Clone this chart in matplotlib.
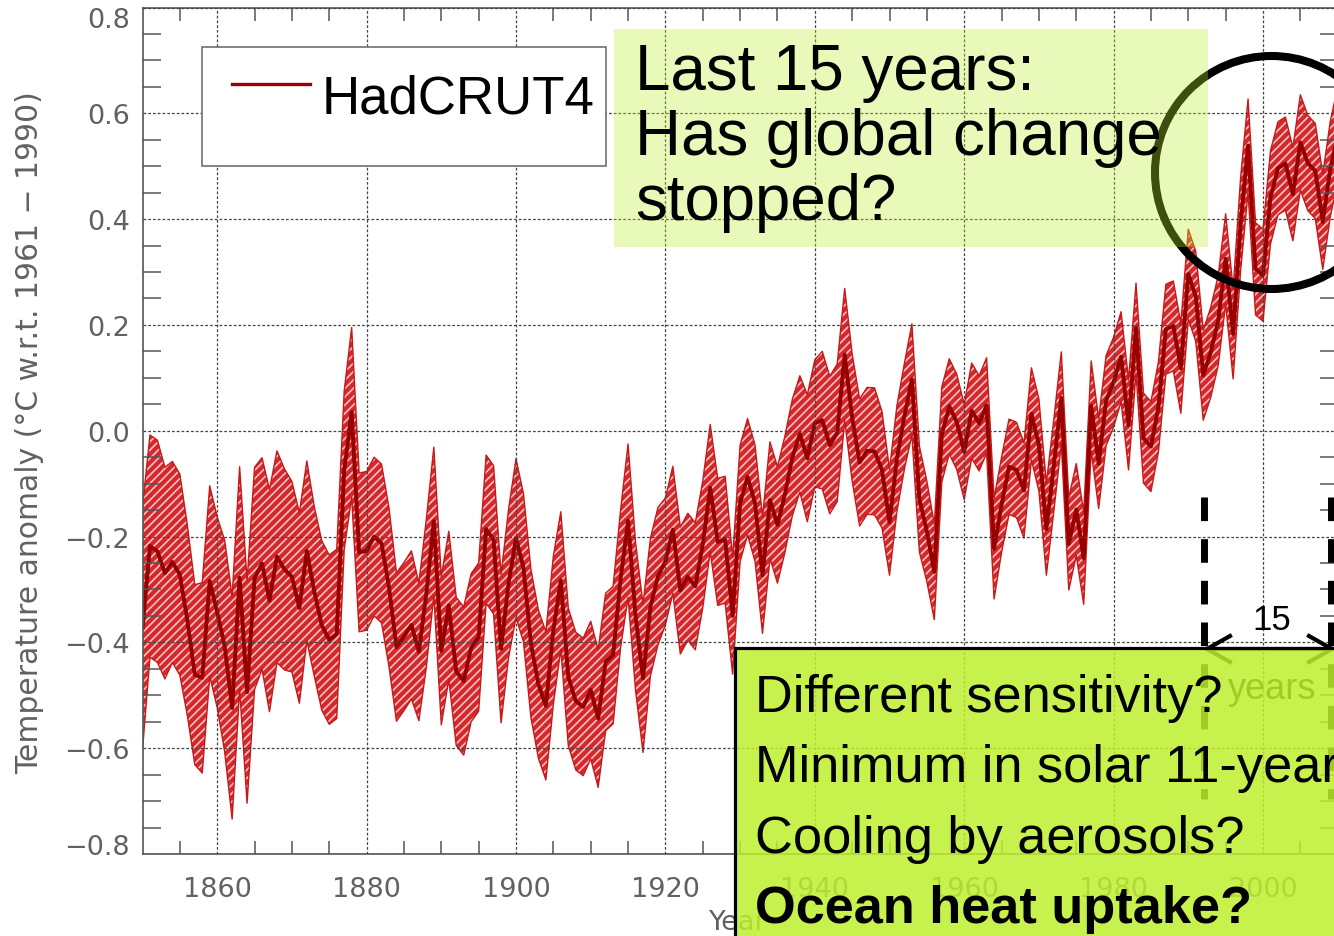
import matplotlib
matplotlib.use("Agg")
import matplotlib.pyplot as plt
import matplotlib.patches as mpatches
from matplotlib.lines import Line2D
from matplotlib.ticker import FuncFormatter

# ---------------- data ----------------
years = list(range(1850, 2013))
anomaly = [
    -0.373, -0.218, -0.228, -0.269, -0.248, -0.272, -0.358, -0.461, -0.467, -0.284,
    -0.343, -0.407, -0.524, -0.278, -0.494, -0.279, -0.251, -0.321, -0.238, -0.262,
    -0.276, -0.335, -0.227, -0.304, -0.368, -0.395, -0.384, -0.075, 0.035, -0.230,
    -0.227, -0.200, -0.213, -0.296, -0.409, -0.389, -0.367, -0.418, -0.307, -0.171,
    -0.416, -0.330, -0.455, -0.473, -0.410, -0.390, -0.186, -0.206, -0.412, -0.289,
    -0.203, -0.259, -0.402, -0.479, -0.520, -0.377, -0.283, -0.465, -0.511, -0.522,
    -0.490, -0.544, -0.437, -0.424, -0.280, -0.170, -0.350, -0.468, -0.333, -0.275,
    -0.247, -0.187, -0.302, -0.276, -0.294, -0.215, -0.108, -0.210, -0.206, -0.350,
    -0.137, -0.087, -0.137, -0.273, -0.131, -0.178, -0.120, -0.050, -0.006, -0.052,
    0.014, 0.020, -0.027, -0.004, 0.144, 0.025, -0.060, -0.038, -0.039, -0.074,
    -0.173, -0.052, 0.028, 0.097, -0.129, -0.190, -0.267, -0.007, 0.046, 0.017,
    -0.040, 0.038, 0.014, 0.048, -0.223, -0.140, -0.068, -0.074, -0.113, 0.032,
    -0.027, -0.186, -0.065, 0.062, -0.214, -0.149, -0.241, 0.047, -0.062, 0.057,
    0.092, 0.140, 0.011, 0.194, -0.014, -0.030, 0.045, 0.192, 0.198, 0.118,
    0.296, 0.254, 0.105, 0.148, 0.208, 0.325, 0.183, 0.390, 0.539, 0.306,
    0.294, 0.441, 0.496, 0.505, 0.447, 0.545, 0.506, 0.491, 0.395, 0.494,
    0.560, 0.425, 0.470,
]
half_width = [
    0.23, 0.21, 0.21, 0.20, 0.19, 0.19, 0.18, 0.17, 0.18, 0.18,
    0.18, 0.20, 0.21, 0.21, 0.21, 0.21, 0.20, 0.21, 0.20, 0.19,
    0.18, 0.18, 0.17, 0.16, 0.16, 0.16, 0.16, 0.15, 0.16, 0.15,
    0.15, 0.15, 0.15, 0.15, 0.14, 0.14, 0.14, 0.13, 0.14, 0.14,
    0.14, 0.14, 0.14, 0.14, 0.14, 0.14, 0.14, 0.14, 0.14, 0.14,
    0.15, 0.14, 0.14, 0.14, 0.14, 0.14, 0.13, 0.13, 0.13, 0.13,
    0.13, 0.13, 0.13, 0.13, 0.13, 0.145, 0.14, 0.14, 0.13, 0.13,
    0.12, 0.12, 0.12, 0.12, 0.12, 0.12, 0.12, 0.12, 0.12, 0.11,
    0.11, 0.11, 0.11, 0.11, 0.11, 0.11, 0.11, 0.11, 0.11, 0.12,
    0.12, 0.13, 0.13, 0.13, 0.125, 0.12, 0.12, 0.12, 0.12, 0.11,
    0.10, 0.10, 0.10, 0.105, 0.10, 0.095, 0.09, 0.09, 0.09, 0.09,
    0.09, 0.09, 0.09, 0.09, 0.095, 0.09, 0.09, 0.09, 0.09, 0.087,
    0.087, 0.087, 0.087, 0.087, 0.087, 0.087, 0.087, 0.085, 0.085, 0.085,
    0.085, 0.085, 0.085, 0.085, 0.085, 0.085, 0.085, 0.085, 0.085, 0.085,
    0.085, 0.085, 0.085, 0.085, 0.085, 0.085, 0.085, 0.088, 0.088, 0.087,
    0.087, 0.088, 0.088, 0.088, 0.088, 0.09, 0.09, 0.09, 0.09, 0.09,
    0.09, 0.09, 0.09,
]
x_major = [1860, 1880, 1900, 1920, 1940, 1960, 1980, 2000]
y_major = [-0.8, -0.6, -0.4, -0.2, 0.0, 0.2, 0.4, 0.6, 0.8]
series_label = "HadCRUT4"
y_label = "Temperature anomaly (\u00b0C w.r.t. 1961 \u2212 1990)"
x_label = "Year"
top_note = ["Last 15 years:", "Has global change", "stopped?"]
bottom_note = ["Different sensitivity?", "Minimum in solar 11-year cycle?",
               "Cooling by aerosols?", "Ocean heat uptake?"]
span_label = "15"
span_unit = "years"

upper = [a + h for a, h in zip(anomaly, half_width)]
lower = [a - h for a, h in zip(anomaly, half_width)]

# ---------------- figure ----------------
W, H = 1334, 937
plt.rcParams["font.family"] = ["DejaVu Sans"]
plt.rcParams["hatch.linewidth"] = 1.2
fig = plt.figure(figsize=(W / 100, H / 100), dpi=100)


def fx(x):
    return x / W


def fy(y):
    return 1 - y / H


ax_left, ax_right, ax_top, ax_bot = 142.5, 142.5 + 160 * 7.47, 8.5, 855
ax = fig.add_axes([fx(ax_left), fy(ax_bot), (ax_right - ax_left) / W, (ax_bot - ax_top) / H])

band_face = "#D4282D"
ax.fill_between(years, lower, upper, facecolor=band_face, edgecolor="none", zorder=1)
ax.fill_between(years, lower, upper, facecolor="none", edgecolor="#F6C2C2",
                hatch="////", linewidth=0, zorder=1.1)
ax.plot(years, upper, color="#C81818", lw=1.0, zorder=1.5)
ax.plot(years, lower, color="#C81818", lw=1.0, zorder=1.5)
ax.plot(years, anomaly, color="#980000", lw=2.8, zorder=2)

ax.set_xlim(1850, 2010)
ax.set_ylim(-0.8, 0.8)
ax.set_xticks(x_major)
ax.set_yticks(y_major)
ax.set_xticks(list(range(1855, 2010, 5)), minor=True)
ax.set_yticks([v / 100 for v in range(-75, 80, 5)], minor=True)
ax.yaxis.set_major_formatter(FuncFormatter(lambda v, p: f"{v:.1f}".replace("-", "\u2212")))

gray = "#555555"
ax.tick_params(which="major", length=0, labelsize=19.5, labelcolor="#616161")
ax.tick_params(axis="x", which="major", pad=16)
ax.tick_params(axis="y", which="major", pad=9)
ax.tick_params(axis="x", which="minor", length=9.5, width=1.1, color=gray,
               direction="in", top=True, bottom=True)
ax.tick_params(axis="y", which="minor", length=13, width=1.1, color=gray,
               direction="in", left=True, right=True)
for s in ax.spines.values():
    s.set_color(gray)
    s.set_linewidth(1.2)
ax.set_axisbelow(False)
ax.grid(which="major", color="#444444", linestyle=(0, (2.2, 1.6)), linewidth=0.9)
ylabels = ax.get_yticklabels()
ylabels[0].set_va("baseline")
ylabels[-1].set_va("top")

fig.text(fx(30), fy(433), y_label, rotation=90, ha="center", va="center",
         fontsize=21.5, color="#616161")
fig.text(fx(738), fy(923), x_label, ha="center", va="center", fontsize=19.5, color="#616161")

sans = ["Liberation Sans", "DejaVu Sans"]

# legend box
fig.patches.append(mpatches.Rectangle((fx(202), fy(167)), (606 - 202) / W, (167 - 48) / H,
                                      transform=fig.transFigure, facecolor="white",
                                      edgecolor="#707070", lw=1.2, zorder=3))
fig.lines.append(Line2D([fx(232), fx(310)], [fy(85), fy(85)], transform=fig.transFigure,
                        color="#9A0000", lw=2.4, zorder=4))
fig.text(fx(322), fy(113), series_label, family=sans, fontsize=38, color="black",
         va="baseline", ha="left", zorder=4)

# circle
fig.patches.append(mpatches.Ellipse((fx(1271.5), fy(173.5)), 233 / W, 233 / H,
                                    transform=fig.transFigure, facecolor="none",
                                    edgecolor="black", lw=5.8, zorder=5))

# upper note box
green = (0.745, 0.937, 0.176)
fig.patches.append(mpatches.Rectangle((fx(614), fy(248)), (1208 - 614) / W, (248 - 30) / H,
                                      transform=fig.transFigure,
                                      facecolor=green + (0.33,), edgecolor="none", zorder=6))
for i, line in enumerate(top_note):
    fig.text(fx(635), fy(90 + 65 * i), line, family=sans, fontsize=45.8,
             color="black", va="baseline", ha="left", zorder=7)

# 15-year span markers
dash_style = (0, (3.4, 2.6))
for xp in (1204, 1331):
    fig.lines.append(Line2D([fx(xp), fx(xp)], [fy(498), fy(800)], transform=fig.transFigure,
                            color="black", lw=5, linestyle=dash_style, zorder=5))
fig.lines.append(Line2D([fx(1207), fx(1331)], [fy(650), fy(650)], transform=fig.transFigure,
                        color="black", lw=3, zorder=5))
fig.lines.append(Line2D([fx(1230), fx(1207), fx(1230)], [fy(637), fy(650), fy(663)],
                        transform=fig.transFigure, color="black", lw=3, zorder=5))
fig.lines.append(Line2D([fx(1309), fx(1332), fx(1309)], [fy(637), fy(650), fy(663)],
                        transform=fig.transFigure, color="black", lw=3, zorder=5))
fig.text(fx(1272), fy(621), span_label, family=sans, fontsize=25, color="black",
         ha="center", va="center", zorder=5)
fig.text(fx(1272), fy(690), span_unit, family=sans, fontsize=26, color="black",
         ha="center", va="center", zorder=5)

# lower note box
fig.patches.append(mpatches.Rectangle((fx(735), fy(950)), (1345 - 735) / W, (950 - 649) / H,
                                      transform=fig.transFigure,
                                      facecolor=green + (0.85,), edgecolor="black",
                                      lw=2.3, zorder=6))
for i, line in enumerate(bottom_note):
    fig.text(fx(755), fy(712 + 70.5 * i), line, family=sans, fontsize=37.7,
             color="black", va="baseline", ha="left", zorder=7,
             fontweight="bold" if i == len(bottom_note) - 1 else "normal")

fig.savefig("out.png", dpi=100)
